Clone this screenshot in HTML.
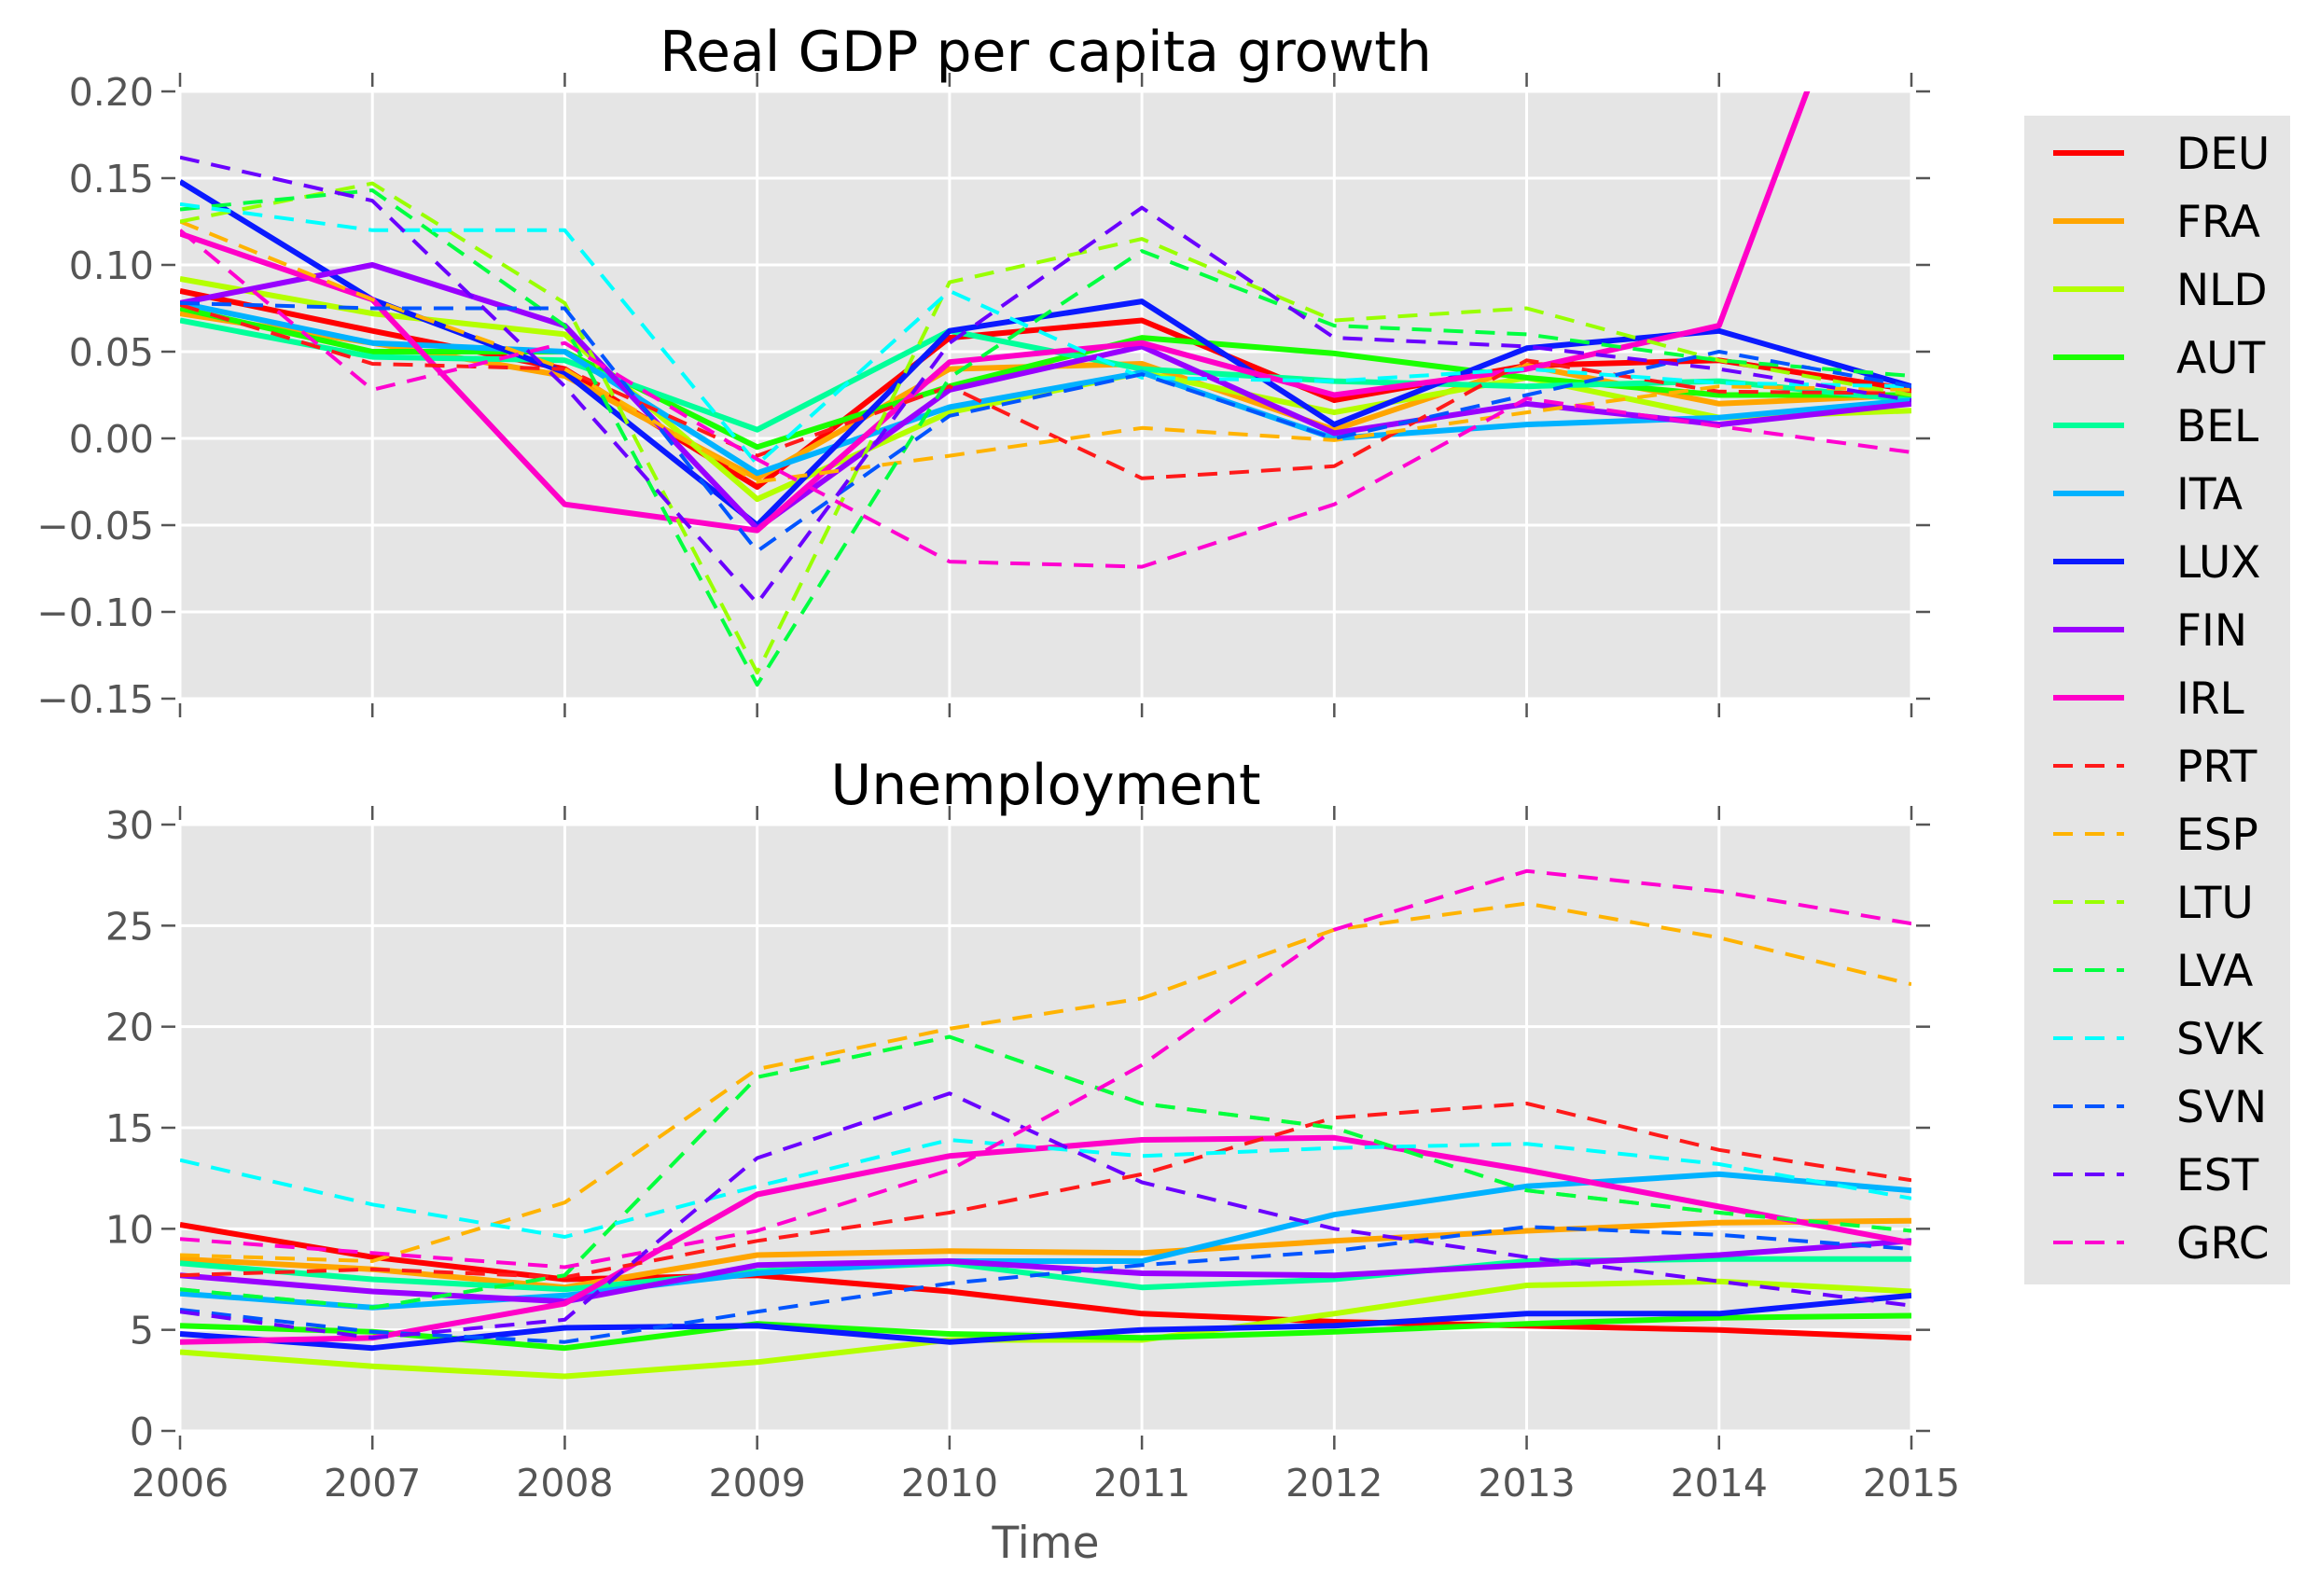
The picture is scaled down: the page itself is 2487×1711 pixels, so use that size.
<!DOCTYPE html>
<html><head><meta charset="utf-8">
<style>
html,body{margin:0;padding:0;background:#fff;}
svg{display:block;font-family:"DejaVu Sans","Liberation Sans",sans-serif;}
</style></head>
<body>
<svg id="chart" width="2487" height="1711" viewBox="0 0 2487 1711" xmlns="http://www.w3.org/2000/svg">
<defs>
<clipPath id="clipTop"><rect x="193" y="98" width="1856" height="651"/></clipPath>
<clipPath id="clipBot"><rect x="193" y="884" width="1856" height="650"/></clipPath>
</defs>
<rect x="193" y="98" width="1856" height="651" fill="#e5e5e5"/>
<rect x="193" y="884" width="1856" height="650" fill="#e5e5e5"/>
<g id="grid"></g>
<g id="series"></g>
<g id="axes"></g>
<text x="1121" y="76" font-size="60" text-anchor="middle" fill="#000">Real GDP per capita growth</text>
<text x="1121" y="862" font-size="60" text-anchor="middle" fill="#000">Unemployment</text>
<text x="1121" y="1670" font-size="47" text-anchor="middle" fill="#555">Time</text>
<g id="legend"></g>
</svg>
<script>
const years = [2006,2007,2008,2009,2010,2011,2012,2013,2014,2015];
const countries = ["DEU","FRA","NLD","AUT","BEL","ITA","LUX","FIN","IRL","PRT","ESP","LTU","LVA","SVK","SVN","EST","GRC"];
const colors = ["#ff0000","#ffa500","#b4ff00","#1aff00","#00ff99","#00b2ff","#0a1aff","#9900ff","#ff00c8","#ff1a1a","#ffb300","#99ff00","#00ff40","#00ffff","#0055ff","#6a00ff","#ff00d0"];
const dashed = [false,false,false,false,false,false,false,false,false,true,true,true,true,true,true,true,true];
const gdpTicks = [-0.15,-0.10,-0.05,0.00,0.05,0.10,0.15,0.20];
const gdpTickLabels = ["\u22120.15","\u22120.10","\u22120.05","0.00","0.05","0.10","0.15","0.20"];
const unTicks = [0,5,10,15,20,25,30];
const unTickLabels = ["0","5","10","15","20","25","30"];
const gdpDEU = [0.085,0.062,0.040,-0.028,0.058,0.068,0.022,0.042,0.045,0.028];
const gdpFRA = [0.072,0.055,0.036,-0.023,0.040,0.043,0.005,0.042,0.020,0.025];
const gdpNLD = [0.092,0.072,0.060,-0.035,0.015,0.038,0.015,0.035,0.012,0.016];
const gdpAUT = [0.075,0.050,0.050,-0.005,0.030,0.058,0.049,0.035,0.025,0.025];
const gdpBEL = [0.068,0.047,0.045,0.005,0.062,0.040,0.033,0.030,0.033,0.022];
const gdpITA = [0.078,0.055,0.050,-0.020,0.018,0.038,0.000,0.008,0.012,0.022];
const gdpLUX = [0.148,0.080,0.038,-0.050,0.062,0.079,0.008,0.052,0.062,0.030];
const gdpFIN = [0.078,0.100,0.065,-0.052,0.028,0.053,0.003,0.020,0.008,0.020];
const gdpIRL = [0.118,0.080,-0.038,-0.053,0.044,0.055,0.025,0.040,0.065,0.360];
const gdpPRT = [0.077,0.043,0.040,-0.010,0.030,-0.023,-0.016,0.045,0.027,0.026];
const gdpESP = [0.125,0.080,0.040,-0.025,-0.010,0.006,-0.001,0.015,0.030,0.028];
const gdpLTU = [0.125,0.147,0.078,-0.135,0.090,0.115,0.068,0.075,0.045,0.025];
const gdpLVA = [0.132,0.143,0.065,-0.142,0.035,0.108,0.065,0.060,0.045,0.036];
const gdpSVK = [0.135,0.120,0.120,-0.015,0.085,0.035,0.033,0.040,0.032,0.030];
const gdpSVN = [0.078,0.075,0.075,-0.065,0.013,0.037,0.000,0.025,0.050,0.030];
const gdpEST = [0.162,0.137,0.030,-0.095,0.055,0.133,0.058,0.053,0.040,0.022];
const gdpGRC = [0.120,0.028,0.055,-0.012,-0.071,-0.074,-0.038,0.023,0.007,-0.008];
const unDEU = [10.2,8.6,7.5,7.7,6.9,5.8,5.4,5.2,5.0,4.6];
const unFRA = [8.5,8.0,7.1,8.7,8.9,8.8,9.4,9.9,10.3,10.4];
const unNLD = [3.9,3.2,2.7,3.4,4.5,4.5,5.8,7.2,7.4,6.9];
const unAUT = [5.2,4.9,4.1,5.3,4.8,4.6,4.9,5.3,5.6,5.7];
const unBEL = [8.3,7.5,7.0,7.9,8.3,7.1,7.5,8.4,8.5,8.5];
const unITA = [6.8,6.1,6.7,7.8,8.4,8.4,10.7,12.1,12.7,11.9];
const unLUX = [4.8,4.1,5.1,5.2,4.4,5.0,5.2,5.8,5.8,6.7];
const unFIN = [7.7,6.9,6.4,8.2,8.4,7.8,7.7,8.2,8.7,9.4];
const unIRL = [4.4,4.6,6.3,11.7,13.6,14.4,14.5,12.9,11.1,9.3];
const unPRT = [7.7,8.0,7.6,9.4,10.8,12.7,15.5,16.2,13.9,12.4];
const unESP = [8.7,8.4,11.3,17.9,19.9,21.4,24.8,26.1,24.4,22.1];
const unLTU = [7.0,6.1,7.7,17.5,19.5,16.2,15.0,11.9,10.8,9.9];
const unLVA = [7.0,6.1,7.7,17.5,19.5,16.2,15.0,11.9,10.8,9.9];
const unSVK = [13.4,11.2,9.6,12.1,14.4,13.6,14.0,14.2,13.2,11.5];
const unSVN = [6.0,4.9,4.4,5.9,7.3,8.2,8.9,10.1,9.7,9.0];
const unEST = [5.9,4.6,5.5,13.5,16.7,12.3,10.0,8.6,7.4,6.2];
const unGRC = [9.5,8.8,8.1,9.9,12.9,18.1,24.8,27.7,26.7,25.1];

const gdpSeries = [gdpDEU,gdpFRA,gdpNLD,gdpAUT,gdpBEL,gdpITA,gdpLUX,gdpFIN,gdpIRL,gdpPRT,gdpESP,gdpLTU,gdpLVA,gdpSVK,gdpSVN,gdpEST,gdpGRC];
const unSeries = [unDEU,unFRA,unNLD,unAUT,unBEL,unITA,unLUX,unFIN,unIRL,unPRT,unESP,unLTU,unLVA,unSVK,unSVN,unEST,unGRC];

const NS = "http://www.w3.org/2000/svg";
const L = 193, R = 2049;
const xS = v => L + (v - 2006) / 9 * (R - L);
const yTop = v => 98 + (0.20 - v) / 0.35 * 651;
const yBot = v => 884 + (30 - v) / 30 * 650;
function mk(tag, attrs, parent){ const e=document.createElementNS(NS,tag); for(const k in attrs) e.setAttribute(k,attrs[k]); parent.appendChild(e); return e; }
const grid = document.getElementById('grid'), axes = document.getElementById('axes'), ser = document.getElementById('series'), leg = document.getElementById('legend');

function axis(ticks, labels, yf, top, bottom, prefix, showXLabels){
  ticks.forEach((t,i)=>{
    const y = yf(t);
    const g = mk('line',{x1:L,x2:R,y1:y,y2:y,stroke:'#fff','stroke-width':3},grid);
    
    
    const tk = mk('line',{x1:L-20,x2:L-5,y1:y,y2:y,stroke:'#555','stroke-width':2.5},axes);
    
    
    const tk2 = mk('line',{x1:R+5,x2:R+20,y1:y,y2:y,stroke:'#555','stroke-width':2.5},axes);
    
    
    const tx = mk('text',{x:L-28,y:y+15,'font-size':41,'text-anchor':'end',fill:'#555'},axes);
    tx.textContent = labels[i];
    
    
  });
  years.forEach(yr=>{
    const x = xS(yr);
    const g = mk('line',{x1:x,x2:x,y1:top,y2:bottom,stroke:'#fff','stroke-width':3},grid);
    
    
    const a = mk('line',{x1:x,x2:x,y1:top-20,y2:top-5,stroke:'#555','stroke-width':2.5},axes);
    
    
    const b = mk('line',{x1:x,x2:x,y1:bottom+5,y2:bottom+20,stroke:'#555','stroke-width':2.5},axes);
    
    
    if(showXLabels){
      const tx = mk('text',{x:x,y:bottom+70,'font-size':41,'text-anchor':'middle',fill:'#555'},axes);
      tx.textContent = String(yr);
      
      
    }
  });
}
axis(gdpTicks, gdpTickLabels, yTop, 98, 749, 'top', false);
axis(unTicks, unTickLabels, yBot, 884, 1534, 'bottom', true);

function draw(series, yf, clip, prefix){
  const g = mk('g',{'clip-path':'url(#'+clip+')'},ser);
  
  
  series.forEach((vals,i)=>{
    const pts = vals.map((v,j)=>xS(years[j]).toFixed(1)+','+yf(v).toFixed(1)).join(' ');
    const attrs = {points:pts,fill:'none',stroke:colors[i],'stroke-width':dashed[i]?4:6,'stroke-linejoin':'round'};
    if(dashed[i]) attrs['stroke-dasharray']='21 13';
    const p = mk('polyline',attrs,g);
    
    
  });
}
draw(gdpSeries, yTop, 'clipTop', 'gdp');
draw(unSeries, yBot, 'clipBot', 'unemployment');

const lb = mk('rect',{x:2170,y:124,width:285,height:1253,fill:'#e5e5e5'},leg);


countries.forEach((c,i)=>{
  const y = 164 + i*73;
  const attrs = {x1:2201,x2:2277,y1:y,y2:y,stroke:colors[i],'stroke-width':dashed[i]?4:6};
  if(dashed[i]) attrs['stroke-dasharray']='21 13';
  const ln = mk('line',attrs,leg);
  
  
  const t = mk('text',{x:2333,y:y+17,'font-size':47,fill:'#000'},leg);
  t.textContent = c;
  
  
});
</script>
</body></html>
